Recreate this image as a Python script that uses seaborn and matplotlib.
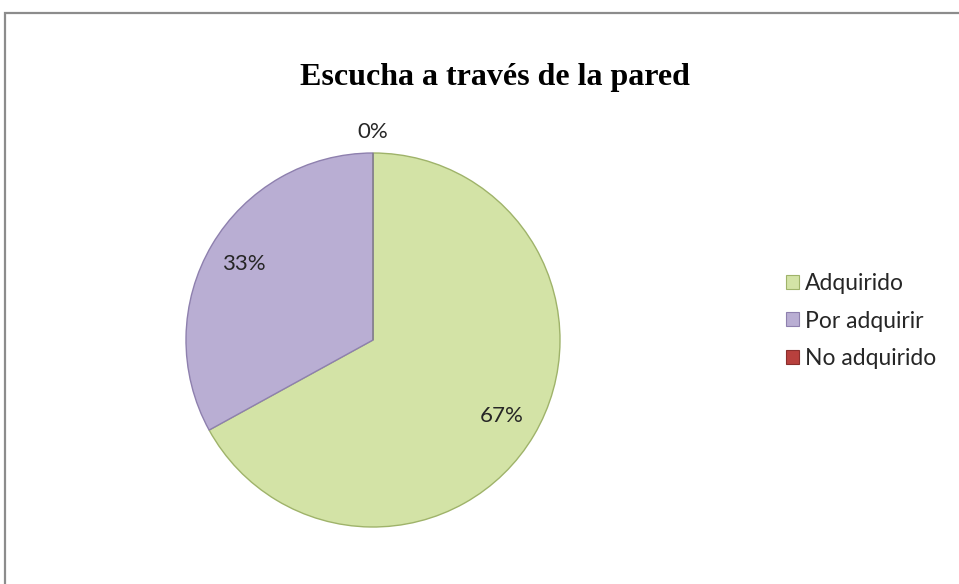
import matplotlib
matplotlib.use("Agg")
import matplotlib.pyplot as plt
import seaborn as sns
from matplotlib.patches import Rectangle

sns.set_theme(style="white")
plt.rcParams["font.family"] = ["Lato", "DejaVu Sans"]

# data
categories = ["Adquirido", "Por adquirir", "No adquirido"]
values = [67, 33, 0]
colors = ["#D3E3A6", "#B9AED3", "#B8403D"]
edge_colors = ["#9FB36A", "#8E80AE", "#8A2E2C"]
title = "Escucha a través de la pared"

fig = plt.figure(figsize=(9.59, 5.84), dpi=100)

# chart frame (only left and top edges visible in the source)
fig.patches.append(Rectangle((5 / 959, -0.1), 1.1, (584 - 13) / 584 + 0.1,
                             transform=fig.transFigure, fill=False,
                             edgecolor="#8c8c8c", linewidth=1.6))

ax = fig.add_axes([186 / 959, 57 / 584, 374 / 959, 374 / 584])
wedges, texts, autotexts = ax.pie(
    values, colors=colors, startangle=90, counterclock=False,
    autopct="%1.0f%%", pctdistance=0.8,
    wedgeprops=dict(linewidth=1.0, edgecolor="#9aa08a"),
    textprops=dict(fontsize=16, color="#262626"))
for v, w, ec in zip(values, wedges, edge_colors):
    w.set_edgecolor(ec if v > 0 else "#7f7f7f")
    if v == 0:
        w.set_linewidth(0.8)

# zero-valued slice labels sit just outside the pie
for v, t in zip(values, autotexts):
    if v == 0:
        t.set_position((0, 1.11))
        t.set_va("center")

ax.set_xlim(-1, 1)
ax.set_ylim(-1, 1)
ax.axis("off")

fig.text(495 / 959, 1 - 78 / 584, title, ha="center", va="center",
         fontsize=23, fontweight="bold", family="Liberation Serif",
         color="black")

handles = [Rectangle((0, 0), 1, 1, facecolor=c, edgecolor=ec, linewidth=0.8)
           for c, ec in zip(colors, edge_colors)]
fig.legend(handles, categories, loc="center left",
           bbox_to_anchor=(775 / 959, 1 - 321 / 584), frameon=False,
           fontsize=16.5, handlelength=0.55, handleheight=0.55,
           handletextpad=0.25, labelspacing=0.72, borderpad=0,
           labelcolor="#262626")

fig.savefig("out.png", dpi=100, facecolor="white")
